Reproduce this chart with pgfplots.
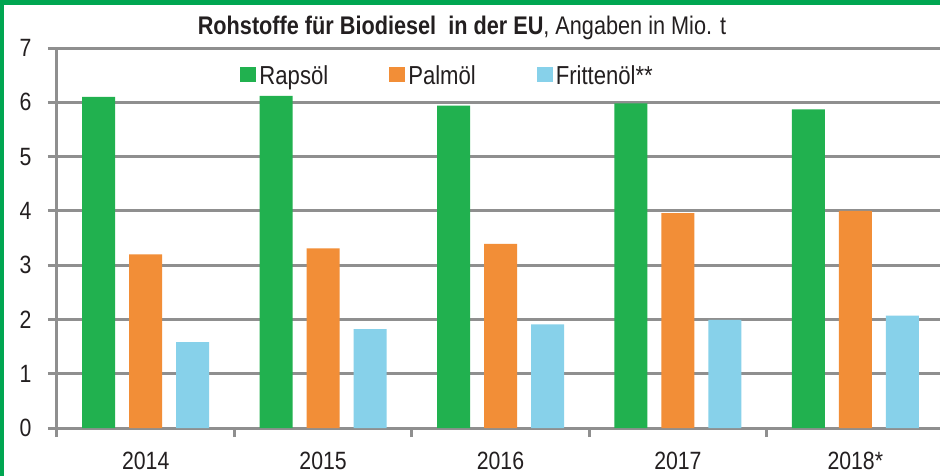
\documentclass[border=0pt]{standalone}
\usepackage{fontspec}
\setmainfont{Liberation Sans}[FakeStretch=0.85]
\usepackage{pgfplots}
\pgfplotsset{compat=1.18}
\definecolor{rgreen}{HTML}{21B14F}
\definecolor{porange}{HTML}{F28E37}
\definecolor{fblue}{HTML}{87D1EA}
\definecolor{gridgray}{HTML}{8F8F8F}
\definecolor{framegreen}{HTML}{00A651}
\definecolor{txt}{HTML}{231F20}
\begin{document}
\begin{tikzpicture}[x=1pt,y=1pt]
\path[use as bounding box] (0,0) rectangle (940,475);
\begin{scope}
\clip (0,0) rectangle (940,475);
\fill[white] (0,0) rectangle (940,475);
\begin{axis}[
  at={(57pt,47pt)}, anchor=south west,
  scale only axis, width=887pt, height=380pt,
  xmin=-0.5, xmax=4.5, ymin=0, ymax=7,
  axis x line*=bottom, axis y line*=left,
  axis line style={-, gridgray, line width=3pt},
  ytick={0,...,7},
  ymajorgrids, grid style={gridgray, line width=3pt},
  xtick={-0.5,0.5,1.5,2.5,3.5}, xticklabels={},
  extra x ticks={0,1,2,3,4},
  extra x tick labels={2014,2015,2016,2017,2018*},
  extra x tick style={major tick length=0pt, grid=none,
     xticklabel style={yshift=-21pt}},
  tick align=outside, major tick length=9pt,
  tick style={gridgray, line width=3pt},
  ticklabel style={font=\fontsize{25}{30}\selectfont, text=txt},
  yticklabel style={xshift=-13pt},
  /pgf/number format/assume math mode=true,
  ybar, bar width=33pt,
  legend style={at={(0.441,0.928)}, anchor=center, draw=none, fill=none,
     font=\fontsize{26}{30}\selectfont, text=txt, legend columns=3,
     nodes={inner ysep=2pt, inner xsep=3pt},
     /tikz/every even column/.append style={column sep=58pt}},
  legend image code/.code={\fill[#1] (-2pt,-7pt) rectangle (14pt,8pt);},
]
\addplot[draw=none, fill=rgreen, bar shift=-47pt] coordinates {(0,6.10) (1,6.12) (2,5.94) (3,5.98) (4,5.87)};
\addplot[draw=none, fill=porange, bar shift=0pt] coordinates {(0,3.20) (1,3.31) (2,3.39) (3,3.96) (4,4.00)};
\addplot[draw=none, fill=fblue, bar shift=47pt] coordinates {(0,1.58) (1,1.82) (2,1.91) (3,1.99) (4,2.07)};
\legend{Rapsöl,Palmöl,Frittenöl**}
\end{axis}
\node[text=txt, font=\fontsize{25.5}{30}\selectfont] at (462,447) {\textbf{Rohstoffe für Biodiesel\ \ in der EU}, Angaben in Mio. t};
\draw[framegreen, line width=6pt] (1,-20) rectangle (960,473);
\end{scope}
\end{tikzpicture}
\end{document}
